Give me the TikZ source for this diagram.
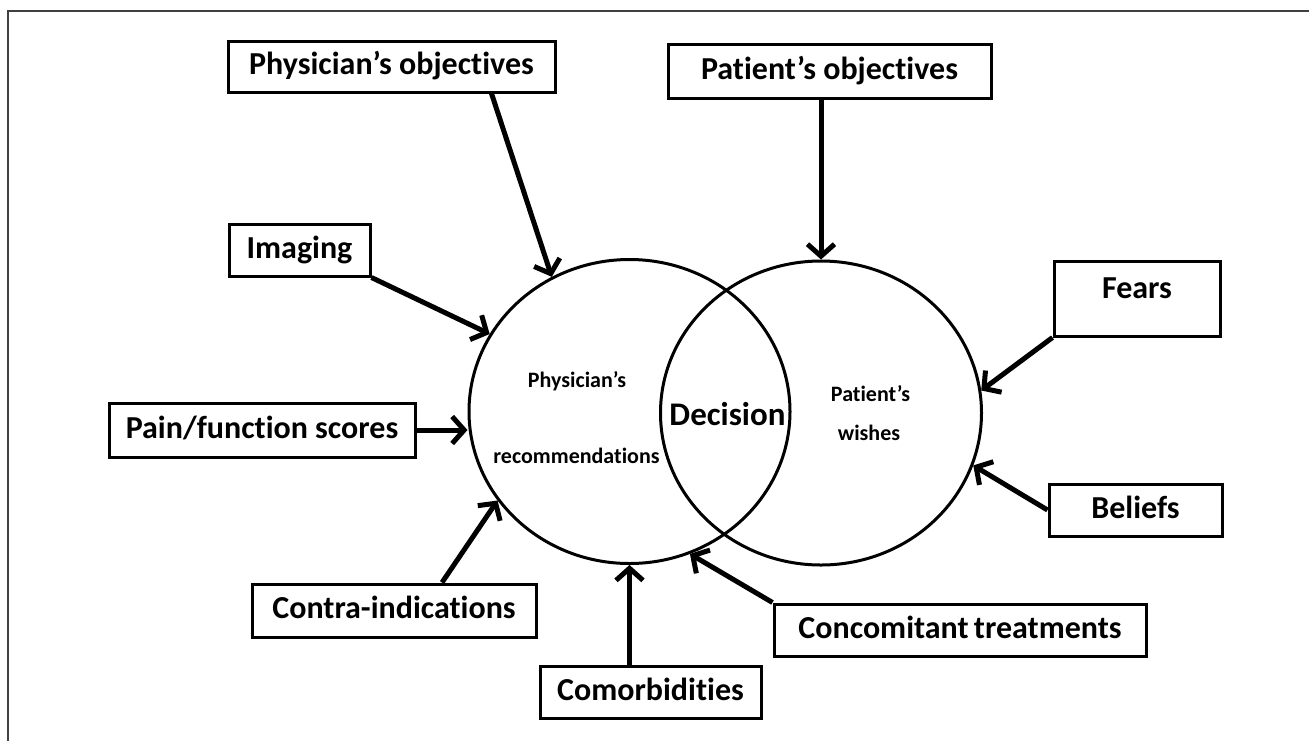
\documentclass[tikz,border=0pt]{standalone}
\usepackage{fontspec}
\setmainfont{Carlito}[Ligatures=CommonOff]
\usetikzlibrary{arrows.meta,shapes.geometric,calc}
\tikzset{
  boxnode/.style={draw, line width=3pt, inner sep=0pt, text height=22pt, text depth=6pt,
    font=\fontsize{32}{37}\selectfont\bfseries},
  ring/.style={draw, ellipse, line width=3pt, inner sep=0pt, minimum width=321pt, minimum height=304pt},
  arr/.style={line width=5pt, -{Straight Barb[length=12pt,width=27pt]}},
  small/.style={anchor=base, inner sep=0pt, font=\fontsize{22}{26}\selectfont\bfseries},
  big/.style={anchor=base, inner sep=0pt, font=\fontsize{33}{38}\selectfont\bfseries}
}
\begin{document}
\begin{tikzpicture}[x=1pt,y=-1pt]
\useasboundingbox (0,0) rectangle (1309,740);
\draw[line width=1.5pt, black!75] (8,745) -- (8,11) -- (1315,11);

\node[ring] (lc) at (629.5,411.5) {};
\node[ring] (rc) at (821,413) {};

\node[boxnode, minimum width=327pt, minimum height=51pt] (po) at (391.5,66.5) {Physician’s objectives};
\node[boxnode, minimum width=323pt, minimum height=54pt] (pob) at (829.5,71) {Patient’s objectives};
\node[boxnode, minimum width=141pt, minimum height=52pt] (im) at (299.5,250) {Imaging};
\node[boxnode, minimum width=166pt, minimum height=75pt, text depth=22pt] (fe) at (1137,298.5) {Fears};
\node[boxnode, minimum width=306pt, minimum height=54pt] (pf) at (262,430) {Pain/function scores};
\node[boxnode, minimum width=173pt, minimum height=52pt] (be) at (1135.5,510) {Beliefs};
\node[boxnode, minimum width=284pt, minimum height=53pt] (ci) at (394,610.5) {Contra-indications};
\node[boxnode, minimum width=372pt, minimum height=52pt] (ct) at (960,630) {Concomitant\hspace{-2pt} treatments\hspace{20pt}};
\node[boxnode, minimum width=221pt, minimum height=52pt] (cm) at (650.5,692) {Comorbidities};

\node[small] (phr1) at (577,387) {Physician’s};
\node[small] (phr2) at (576.5,463) {recommendations};
\node[big] (dec) at (727.5,425) {Decision};
\node[small] (paw1) at (870.5,401) {Patient’s};
\node[small] (paw2) at (869,440) {wishes};

\draw[arr] ($(po.south)+(100,0)$) -- (lc.120.6);
\draw[arr] (im.south east) -- (lc.151);
\draw[arr] (pf.east) -- (pf.east -| lc.west);
\draw[arr] ($(ci.north)+(48,0)$) -- (lc.214.7);
\draw[arr] (lc.south |- cm.north) -- (lc.south);
\draw[arr] (ct.north west) -- (lc.293.3);
\draw[arr] (rc.north |- pob.south) -- (rc.north);
\draw[arr] (fe.south west) -- (rc.8.1);
\draw[arr] (be.west) -- (rc.341.7);
\end{tikzpicture}
\end{document}
